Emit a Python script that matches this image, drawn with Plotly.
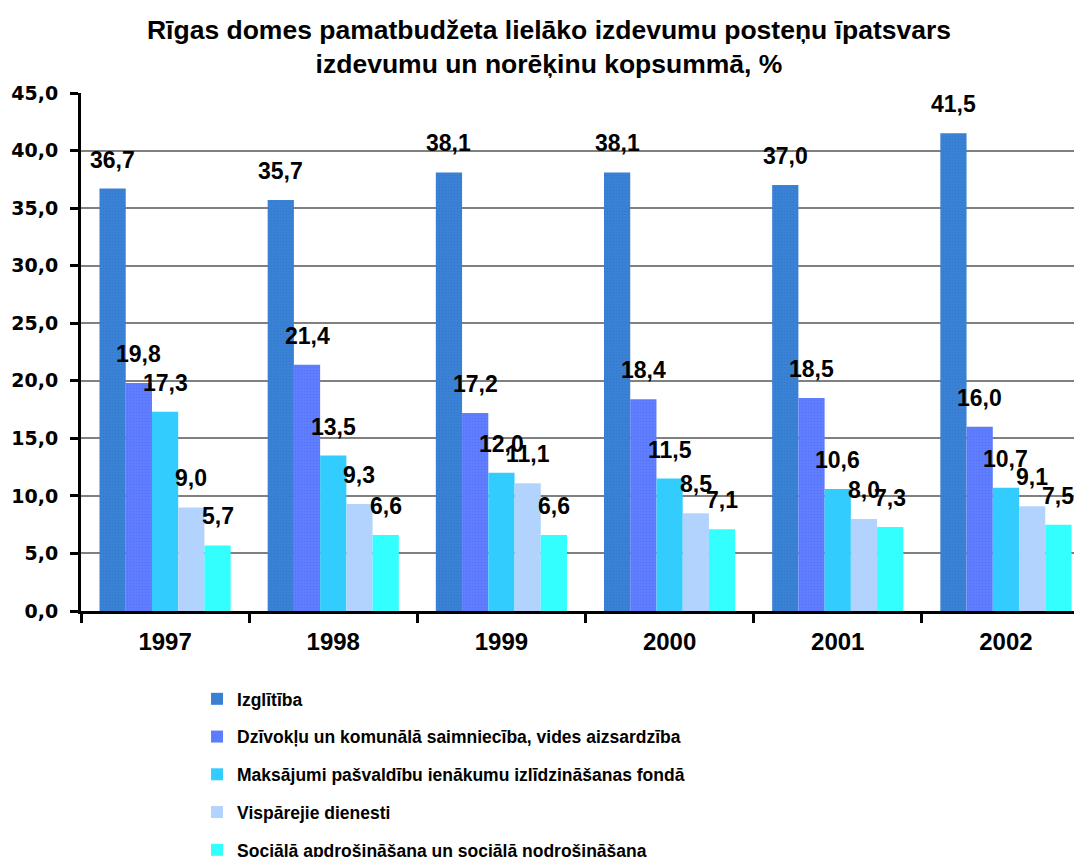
import plotly.graph_objects as go

years = ["1997", "1998", "1999", "2000", "2001", "2002"]
series_names = [
    "Izglītība",
    "Dzīvokļu un komunālā saimniecība, vides aizsardzība",
    "Maksājumi pašvaldību ienākumu izlīdzināšanas fondā",
    "Vispārejie dienesti",
    "Sociālā apdrošināšana un sociālā nodrošināšana",
]
izglitiba = [36.7, 35.7, 38.1, 38.1, 37.0, 41.5]
dzivoklu = [19.8, 21.4, 17.2, 18.4, 18.5, 16.0]
maksajumi = [17.3, 13.5, 12.0, 11.5, 10.6, 10.7]
visparejie = [9.0, 9.3, 11.1, 8.5, 8.0, 9.1]
sociala = [5.7, 6.6, 6.6, 7.1, 7.3, 7.5]
all_values = [izglitiba, dzivoklu, maksajumi, visparejie, sociala]
colors = ["#3A82D6", "#5F7EFF", "#33CCFF", "#B3D3FF", "#33FFFF"]
pattern_fg = ["#2E6FC0", "#5068E8", None, None, None]

y_ticks = [0, 5, 10, 15, 20, 25, 30, 35, 40, 45]
y_ticktext = [f"{v:.1f}".replace(".", ",") for v in y_ticks]

FONT = "Arial, Liberation Sans, sans-serif"
xpos = list(range(len(years)))
bargap = 0.22
nser = len(all_values)
bw = (1 - bargap) / nser

fig = go.Figure()
for j, (name, vals, col) in enumerate(zip(series_names, all_values, colors)):
    marker = dict(color=col, line=dict(width=0))
    if pattern_fg[j]:
        marker["pattern"] = dict(shape=".", fgcolor=pattern_fg[j], size=3, solidity=0.25)
    fig.add_trace(go.Bar(
        x=xpos, y=vals, name=name, marker=marker,
        legendgroup=f"g{j}", hoverinfo="y",
    ))

annotations = []
for j, vals in enumerate(all_values):
    off = -(1 - bargap) / 2 + bw * (j + 0.5)
    for i, v in enumerate(vals):
        annotations.append(dict(
            x=i + off, y=v, xref="x", yref="y",
            text=f"{v:.1f}".replace(".", ","),
            showarrow=False, yanchor="bottom", yshift=14,
            font=dict(family=FONT, size=23, color="black", weight="bold"),
        ))

fig.update_layout(
    width=1082, height=857,
    paper_bgcolor="white", plot_bgcolor="white",
    barmode="group", bargap=bargap, bargroupgap=0,
    margin=dict(l=73, r=0, t=85, b=254, autoexpand=False),
    title=dict(
        text="Rīgas domes pamatbudžeta lielāko izdevumu posteņu īpatsvars<br>izdevumu un norēķinu kopsummā, %",
        x=0.5, xanchor="center", xref="container", yref="container", y=0.964, yanchor="top",
        font=dict(family=FONT, size=26.5, color="black", weight="bold"),
    ),
    font=dict(family=FONT, color="black"),
    annotations=annotations,
    legend=dict(
        x=0.115, xanchor="left", y=-0.135, yanchor="top",
        orientation="v", tracegroupgap=12,
        font=dict(family=FONT, size=17.5, color="black", weight="bold"),
        bgcolor="rgba(0,0,0,0)",
    ),
    xaxis=dict(
        range=[-0.5, 5.5], tickvals=xpos, ticktext=years,
        showgrid=False, zeroline=False,
        showline=True, linecolor="black", linewidth=3,
        ticks="", tickfont=dict(family=FONT, size=24, color="black", weight="bold"),
        minor=dict(tickvals=[k - 0.5 for k in range(len(years) + 1)], ticks="outside",
                   ticklen=9, tickwidth=3, tickcolor="black", showgrid=False),
        ticklabelstandoff=7,
    ),
    yaxis=dict(
        range=[0, 45], tickvals=y_ticks, ticktext=y_ticktext,
        showgrid=True, gridcolor="#808080", gridwidth=2,
        zeroline=False, showline=True, linecolor="black", linewidth=3,
        ticks="outside", ticklen=8, tickwidth=3, tickcolor="black",
        tickfont=dict(family="DejaVu Sans", size=19, color="black", weight="bold"),
        ticklabelstandoff=8,
    ),
)

fig.write_html("out.html")
